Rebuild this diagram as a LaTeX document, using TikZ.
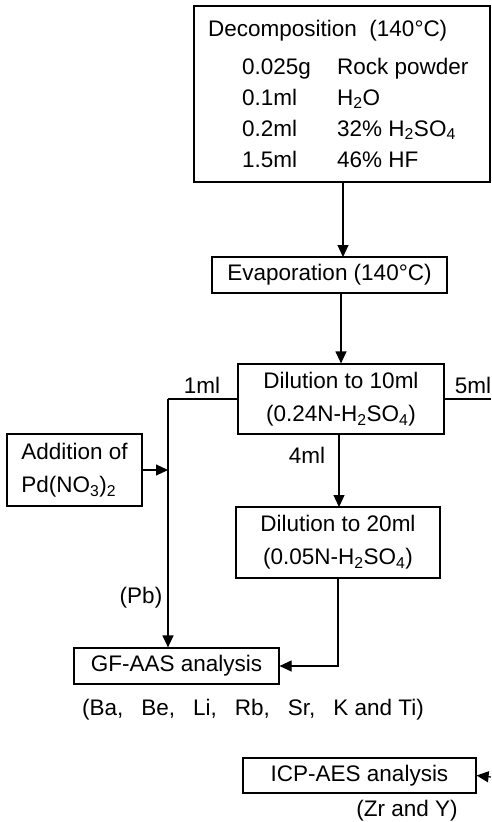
\documentclass[tikz,border=0pt]{standalone}
\usepackage{fontspec}
\setmainfont{Liberation Sans}
\usetikzlibrary{arrows.meta}
\begin{document}
\begin{tikzpicture}[x=1pt,y=-1pt,
  every node/.style={font=\fontsize{22.5}{33}\selectfont},
  box/.style={draw, line width=1.2pt, inner sep=0pt, align=center},
  lbl/.style={inner sep=0pt, anchor=base west},
  clbl/.style={inner sep=0pt, anchor=base},
  conn/.style={line width=1.2pt},
  tip/.style={-{Triangle[length=12pt,width=11pt]}},
  arr/.style={conn, tip}]
\useasboundingbox (0,0) rectangle (491,822);
\fill[white] (0,0) rectangle (491,822);

% Decomposition box
\node[box, minimum width=296pt, minimum height=176pt] (decomp) at (342,94) {};
\node[lbl] (dtitle) at (208,36) {Decomposition\ \ (140°C)};
\node[lbl] (q1) at (242,74) {0.025g};
\node[lbl] (s1) at (337,74) {Rock powder};
\node[lbl] (q2) at (242,105) {0.1ml};
\node[lbl] (s2) at (337,105) {H\textsubscript{2}O};
\node[lbl] (q3) at (242,136) {0.2ml};
\node[lbl] (s3) at (337,136) {32\% H\textsubscript{2}SO\textsubscript{4}};
\node[lbl] (q4) at (242,167) {1.5ml};
\node[lbl] (s4) at (337,167) {46\% HF};

% other boxes
\node[box, minimum width=235pt, minimum height=36pt] (evap) at (329.5,275) {Evaporation (140°C)};
\node[box, minimum width=206pt, minimum height=70pt] (dil1) at (341,399) {Dilution to 10ml\\(0.24N-H\textsubscript{2}SO\textsubscript{4})};
\node[box, minimum width=204pt, minimum height=71pt] (dil2) at (338,542.5) {Dilution to 20ml\\(0.05N-H\textsubscript{2}SO\textsubscript{4})};
\node[box, minimum width=135pt, minimum height=72pt, align=left] (add) at (74.5,470) {Addition of\\Pd(NO\textsubscript{3})\textsubscript{2}};
\node[box, minimum width=205pt, minimum height=36pt] (gf) at (176.5,666) {GF-AAS analysis};
\node[box, minimum width=233pt, minimum height=35pt] (icp) at (359.5,775.5) {ICP-AES analysis};

% labels
\node[clbl] (l1) at (202,393) {1ml};
\node[clbl] (l5) at (473,393) {5ml};
\node[clbl] (l4) at (307,463) {4ml};
\node[clbl] (lpb) at (141,603) {(Pb)};
\node[clbl] (lgf) at (253,715) {(Ba,\hspace{0.8em}Be,\hspace{0.8em}Li,\hspace{0.8em}Rb,\hspace{0.8em}Sr,\hspace{0.8em}K and Ti)};
\node[clbl] (licp) at (407,816) {(Zr and Y)};

% coordinates
\coordinate (j1) at (168,399);
\coordinate (r5) at (491,399);
\coordinate (ricp) at (491,777);

% connectors
\draw[arr] (343,182) -- (343,257);
\draw[arr] (evap.south -| dil1.north) -- (dil1.north);
\draw[arr] (339,434) -- (339,507);
\draw[conn] (dil1.west) -- (j1);
\draw[arr] (j1) -- (j1 |- gf.north);
\draw[arr] (add.east) -- (add.east -| j1);
\draw[arr] (dil2.south) |- (gf.east);
\draw[conn] (dil1.east) -- (r5);
\draw[conn, dash pattern=on 3pt off 2pt, tip] (ricp) -- (icp.east);
\end{tikzpicture}
\end{document}
